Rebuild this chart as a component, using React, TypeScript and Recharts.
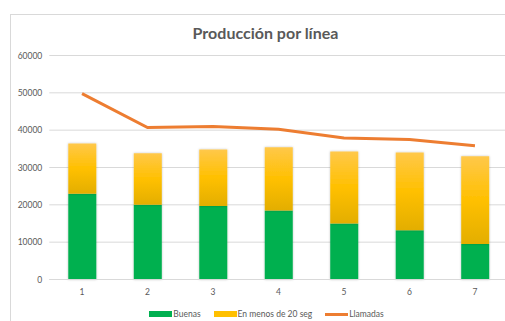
import React from "react";
import { ComposedChart, Bar, Line, XAxis, YAxis, CartesianGrid, Legend } from "recharts";

const categories = ["1", "2", "3", "4", "5", "6", "7"];
const buenas = [23000, 20000, 19700, 18500, 15000, 13200, 9500];
const enMenos20 = [13400, 13800, 15100, 16900, 19300, 20800, 23500];
const llamadas = [49800, 40700, 40950, 40250, 37900, 37500, 35800];
const yTicks = [0, 10000, 20000, 30000, 40000, 50000, 60000];

const data = categories.map((c, i) => ({
  cat: c,
  buenas: buenas[i],
  enMenos: enMenos20[i],
  llamadas: llamadas[i],
}));

const FONT = "Lato, 'Open Sans', sans-serif";
const TXT = "#595959";

const LegendContent = (props: any) => {
  const payload = props.payload || [];
  return (
    <div
      style={{
        display: "flex",
        justifyContent: "center",
        alignItems: "center",
        width: 533,
        height: 14,
        fontFamily: FONT,
        fontSize: 8.5,
        color: TXT,
      }}
    >
      {payload.map((p: any, i: number) => (
        <div key={i} style={{ display: "flex", alignItems: "center", marginRight: i < payload.length - 1 ? 13 : 0 }}>
          {p.type === "line" ? (
            <div style={{ width: 23, height: 3, background: "#ED7D31" }} />
          ) : (
            <div style={{ width: 23, height: 6, background: p.dataKey === "enMenos" ? "#FFC000" : "#00B050" }} />
          )}
          <span style={{ marginLeft: 1 }}>{p.value}</span>
        </div>
      ))}
    </div>
  );
};

export default function App() {
  return (
    <div style={{ position: "absolute", left: 0, top: 0, width: 505, height: 321, overflow: "hidden", background: "#fff" }}>
      <div
        style={{
          position: "absolute",
          left: 10,
          top: 14,
          width: 540,
          height: 330,
          border: "1px solid #D9D9D9",
          boxSizing: "border-box",
        }}
      />
      <div
        style={{
          position: "absolute",
          left: 0,
          top: 23,
          width: 531,
          textAlign: "center",
          fontFamily: FONT,
          fontWeight: 700,
          fontSize: 16,
          lineHeight: "20px",
          color: TXT,
        }}
      >
        Producción por línea
      </div>
      <div style={{ position: "absolute", left: 0, top: 0 }}>
        <ComposedChart
          width={520}
          height={321}
          data={data}
          margin={{ top: 55.5, right: 12.3, bottom: 0, left: 0 }}
        >
          <defs>
            <linearGradient id="ylw" x1="0" y1="0" x2="0" y2="1">
              <stop offset="0%" stopColor="#FFC84A" />
              <stop offset="50%" stopColor="#FFC000" />
              <stop offset="100%" stopColor="#E3AE00" />
            </linearGradient>
            <filter id="shd" x="-20%" y="-20%" width="140%" height="140%">
              <feDropShadow dx="0" dy="0" stdDeviation="0.8" floodColor="#000" floodOpacity="0.25" />
            </filter>
          </defs>
          <CartesianGrid vertical={false} stroke="#D9D9D9" strokeWidth={1} />
          <XAxis
            dataKey="cat"
            axisLine={{ stroke: "#D9D9D9" }}
            tickLine={false}
            tickSize={0}
            tickMargin={9}
            height={27.5}
            tick={{ fontSize: 8.5, fill: TXT, fontFamily: FONT }}
          />
          <YAxis
            domain={[0, 60000]}
            ticks={yTicks}
            axisLine={false}
            tickLine={false}
            tickSize={0}
            tickMargin={7}
            width={49.3}
            tick={{ fontSize: 8.5, fill: TXT, fontFamily: FONT }}
          />
          <Legend
            verticalAlign="bottom"
            content={<LegendContent />}
            wrapperStyle={{ left: 0, width: 533, height: 14 }}
          />
          <Bar dataKey="buenas" name="Buenas" stackId="a" fill="#00B050" barSize={28} isAnimationActive={false} style={{ filter: "url(#shd)" }} />
          <Bar dataKey="enMenos" name="En menos de 20 seg" stackId="a" fill="url(#ylw)" barSize={28} isAnimationActive={false} style={{ filter: "url(#shd)" }} />
          <Line
            dataKey="llamadas"
            name="Llamadas"
            type="linear"
            stroke="#ED7D31"
            strokeWidth={3}
            dot={false}
            activeDot={false}
            legendType="line"
            isAnimationActive={false}
          />
        </ComposedChart>
      </div>
    </div>
  );
}
